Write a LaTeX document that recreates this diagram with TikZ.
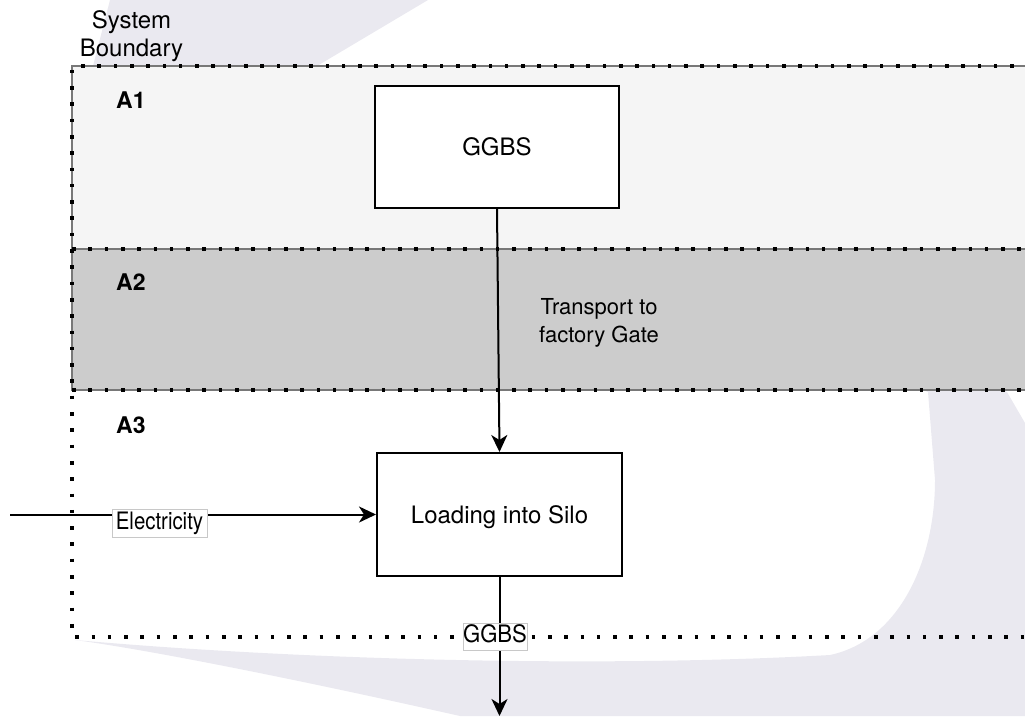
\documentclass[tikz,border=0pt]{standalone}
\usepackage{fontspec}
\setmainfont{TeX Gyre Heros}
\usetikzlibrary{arrows.meta}
\definecolor{wmark}{RGB}{234,233,240}
\definecolor{aone}{RGB}{245,245,245}
\definecolor{atwo}{RGB}{204,204,204}
\definecolor{edgegray}{RGB}{120,120,120}
\definecolor{lblgray}{RGB}{200,200,200}
\newcommand{\sqz}[2]{\scalebox{#1}[1]{#2}}
\tikzset{
  dotline/.style={line width=3.6pt, dash pattern=on 3.6pt off 12.7pt, black},
  paneledge/.style={line width=2pt, edgegray},
  procbox/.style={draw=black, line width=2pt, fill=white, font=\fontsize{24}{28}\selectfont,
     text height=17.5pt, text depth=0pt},
  arr/.style={line width=2pt, -{Stealth[length=17pt,width=16pt,inset=5pt]}},
  flowlabel/.style={draw=lblgray, line width=1pt, fill=white, inner sep=0pt,
     font=\fontsize{24}{28}\selectfont, text height=17.5pt, text depth=5pt},
  zonelabel/.style={font=\fontsize{23}{28}\bfseries\selectfont, anchor=west, inner sep=0pt},
  plaintext/.style={align=center, inner sep=0pt}
}
\begin{document}
\begin{tikzpicture}[x=1pt,y=-1pt]
\useasboundingbox (0,0) rectangle (1025,716);
% watermark swoosh
\fill[wmark] (110,0) -- (428,0) -- (317,66) -- (1007,392) -- (1025,423) -- (1025,716)
  -- (460,716) .. controls (300,680) and (150,650) .. (75,640)
  .. controls (300,660) and (600,668) .. (830,655)
  .. controls (900,640) and (935,560) .. (935,480)
  -- (928,392) -- (93,66) -- cycle;
% panels
\fill[aone] (72,66) rectangle (1030,249);
\fill[atwo] (72,249) rectangle (1030,390);
\draw[paneledge] (1030,66) -- (72,66) -- (72,390) -- (1030,390);
\draw[paneledge] (72,249) -- (1030,249);
% dotted boundaries
\draw[dotline] (1030,66) -- (72,66) -- (72,637) -- (1030,637);
\draw[dotline] (72,249) -- (1030,249);
\draw[dotline] (72,390) -- (1030,390);
% texts
\node[plaintext, font=\fontsize{24}{28}\selectfont] (sysb) at (131.5,36) {System\\Boundary};
\node[zonelabel] (a1) at (116,100) {A1};
\node[zonelabel] (a2) at (116,282) {A2};
\node[zonelabel] (a3) at (116,425) {A3};
\node[plaintext, font=\fontsize{22}{28}\selectfont] (transp) at (599,323) {Transport to\\factory Gate};
% process boxes
\node[procbox, minimum width=244pt, minimum height=122pt] (ggbs) at (497,147) {GGBS};
\node[procbox, minimum width=245pt, minimum height=123pt] (silo) at (499.5,514.5) {Loading into Silo};
% connectors
\coordinate (elecsrc) at (10,514.5);
\coordinate (outend) at (499.5,716);
\draw[arr] (ggbs.south) -- (silo.north);
\draw[arr] (elecsrc) -- (silo.west);
\draw[arr] (silo.south) -- (outend);
% connector labels
\node[flowlabel, minimum width=95pt, minimum height=28pt] (elab) at (159.5,523) {\sqz{0.85}{Electricity}};
\node[flowlabel, minimum width=64pt, minimum height=27pt] (olab) at (495,636.5) {\sqz{0.92}{GGBS}};
\end{tikzpicture}
\end{document}
